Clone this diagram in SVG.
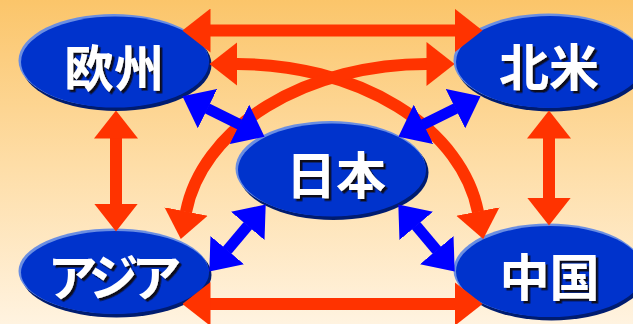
<svg xmlns="http://www.w3.org/2000/svg" width="633" height="324" viewBox="0 0 633 324">
<defs>
<linearGradient id="bg" x1="0" y1="0" x2="0" y2="1">
<stop offset="0" stop-color="#FBC56A"/>
<stop offset="0.5" stop-color="#FEDDA6"/>
<stop offset="1" stop-color="#FFF3E0"/>
</linearGradient>
<filter id="ds" x="-10%" y="-20%" width="130%" height="150%">
<feDropShadow dx="2.5" dy="2.5" stdDeviation="0.3" flood-color="#0A0A1A" flood-opacity="1"/>
</filter>
<marker id="ar" viewBox="0 -22 28 44" markerUnits="userSpaceOnUse" markerWidth="28" markerHeight="44" refX="0.5" refY="0" orient="auto-start-reverse">
<path d="M0,-22 L28,0 L0,22 Z" fill="#FF3300"/>
</marker>
<marker id="ab" viewBox="0 -22 28 44" markerUnits="userSpaceOnUse" markerWidth="28" markerHeight="44" refX="0.5" refY="0" orient="auto-start-reverse">
<path d="M0,-22 L28,0 L0,22 Z" fill="#0000FF"/>
</marker>
</defs>
<style>
.hi{fill:#6A8EE2}
.lo{fill:#001C70}
.body{fill:#0033CC}
.lbl{font-family:"Noto Sans CJK JP","Noto Sans CJK SC",sans-serif;font-weight:bold;font-size:50px;text-anchor:middle;fill:#FFFFFF;filter:url(#ds)}
.red{fill:none;stroke:#FF3300;stroke-width:12;marker-start:url(#ar);marker-end:url(#ar)}
.blue{fill:none;stroke:#0000FF;stroke-width:11;marker-start:url(#ab);marker-end:url(#ab)}
</style>
<rect x="0" y="0" width="633" height="324" fill="url(#bg)"/>

<g id="node-europe">
<ellipse class="lo" cx="116.5" cy="64.5" rx="95" ry="46.5"/>
<ellipse class="hi" cx="113.5" cy="60.5" rx="95" ry="46.5"/>
<ellipse class="body" cx="115" cy="62" rx="94" ry="45.5"/>
<text class="lbl" x="114" y="86.5">欧州</text>
</g>

<g id="node-northamerica">
<ellipse class="lo" cx="551.5" cy="64.5" rx="95" ry="47"/>
<ellipse class="hi" cx="548.5" cy="60.5" rx="95" ry="47"/>
<ellipse class="body" cx="550" cy="62" rx="94" ry="46"/>
<text class="lbl" x="549" y="85.5">北米</text>
</g>

<g id="node-japan">
<ellipse class="lo" cx="333.5" cy="172.5" rx="95" ry="47.5"/>
<ellipse class="hi" cx="330.5" cy="168.5" rx="95" ry="47.5"/>
<ellipse class="body" cx="332" cy="170" rx="94" ry="46.5"/>
<text class="lbl" x="336" y="194">日本</text>
</g>

<g id="node-asia">
<ellipse class="lo" cx="116.5" cy="275" rx="95" ry="42.5"/>
<ellipse class="hi" cx="113.5" cy="271" rx="95" ry="42.5"/>
<ellipse class="body" cx="115" cy="272.5" rx="94" ry="41.5"/>
<text class="lbl" x="111" y="295.5" letter-spacing="-7">アジア</text>
</g>

<g id="node-china">
<ellipse class="lo" cx="551.5" cy="274" rx="95" ry="46.5"/>
<ellipse class="hi" cx="548.5" cy="270" rx="95" ry="46.5"/>
<ellipse class="body" cx="550" cy="271.5" rx="94" ry="45.5"/>
<text class="lbl" x="549.5" y="295.5">中国</text>
</g>

<g id="connectors">
<path class="red" d="M210,30.5 H455"/>
<path class="red" d="M210,304 H455"/>
<path class="red" d="M116,138 V204"/>
<path class="red" d="M549,138 V198"/>
<path class="red" d="M237,64 A243,171 0 0 1 478,212"/>
<path class="red" d="M427,64 A243,171 0 0 0 186,212"/>
<path class="blue" d="M207.1,108.4 L239.9,124.6"/>
<path class="blue" d="M455.9,108.4 L423.1,124.6"/>
<path class="blue" d="M227,250.5 L248,225.5"/>
<path class="blue" d="M437,250.5 L416,225.5"/>
</g>
</svg>
